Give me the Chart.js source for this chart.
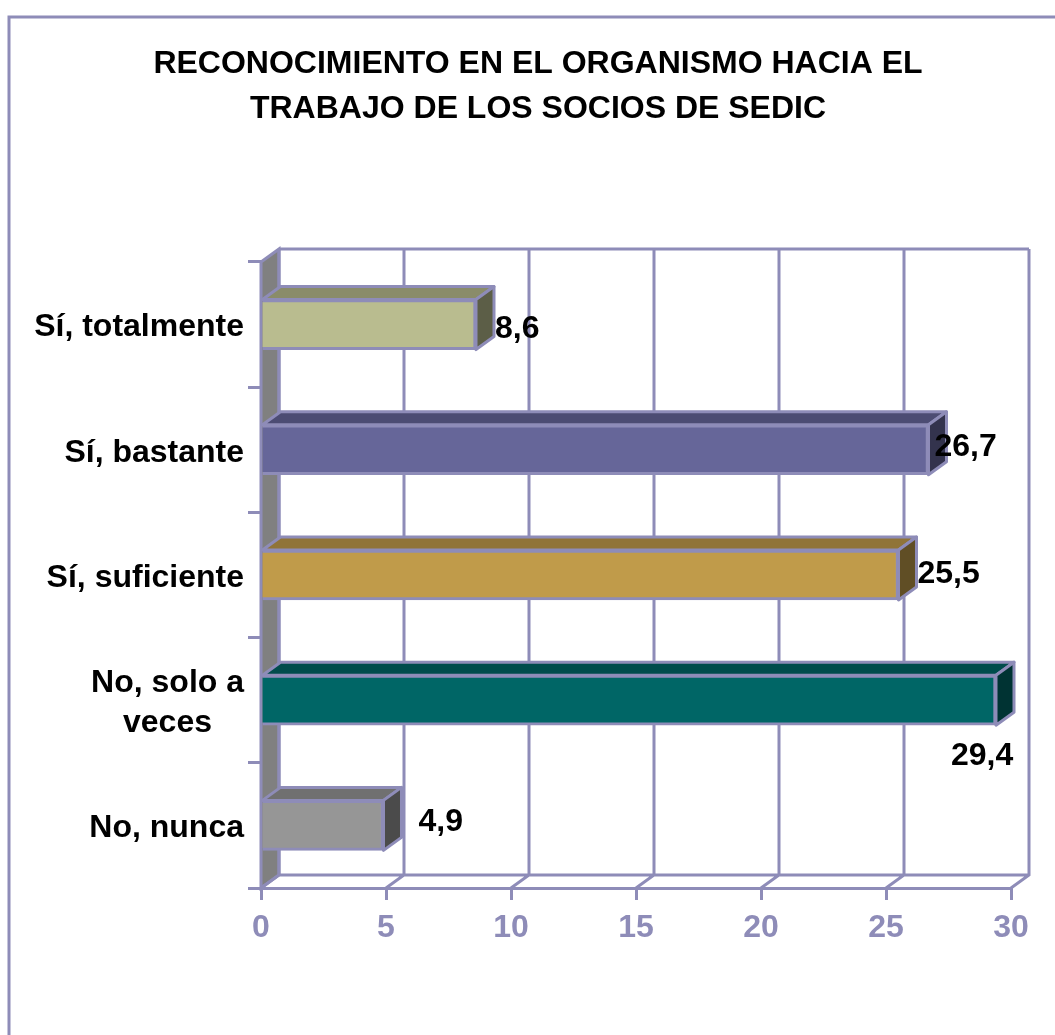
<html>

<head>
    <title>Reconocimiento</title>
    <script src="https://cdn.jsdelivr.net/npm/chart.js@4/dist/chart.umd.js"></script>
    <style>
        html, body { margin: 0; background: #fff; }
        canvas { display: block; }
    </style>
</head>

<body>
    <canvas id="recChart" width="1055" height="1035"></canvas>

    <script>
        const categories = ['Sí, totalmente', 'Sí, bastante', 'Sí, suficiente', ['No, solo a', 'veces'], 'No, nunca'];
        const values = [8.6, 26.7, 25.5, 29.4, 4.9];
        const frontColors = ['#B9BC8F', '#666699', '#C09B4A', '#006666', '#969696'];
        const topColors = ['#8A8C6A', '#4C4C73', '#907438', '#004C4C', '#707070'];
        const sideColors = ['#5C5E47', '#33334D', '#604E25', '#003333', '#4B4B4B'];
        // hand placed labels in the original, moved from the bar end
        const labelNudgeX = [19, 6, 19, -45, 35];
        const labelNudgeY = [5, -3, -1, 56, -3];

        const lineColor = '#8E8CB8';
        const lineWidth = 3;
        const depthX = 18;
        const depthY = -13;
        const fontName = '"Liberation Sans", Arial, sans-serif';

        function poly(ctx, pts, fill) {
            ctx.beginPath();
            ctx.moveTo(pts[0][0], pts[0][1]);
            for (let i = 1; i < pts.length; i++) ctx.lineTo(pts[i][0], pts[i][1]);
            ctx.closePath();
            if (fill) {
                ctx.fillStyle = fill;
                ctx.fill();
            }
            ctx.stroke();
        }

        const box3d = {
            id: 'box3d',
            afterLayout(chart) {
                // the long labels run past the title's left padding, chart.js would clip them
                chart.scales.y.left = 0;
            },
            beforeDraw(chart) {
                // outer frame, only top and left show
                const ctx = chart.ctx;
                ctx.save();
                ctx.strokeStyle = lineColor;
                ctx.lineWidth = 3;
                ctx.beginPath();
                ctx.moveTo(9, 1035);
                ctx.lineTo(9, 17);
                ctx.lineTo(1055, 17);
                ctx.stroke();
                ctx.restore();
            },
            beforeDatasetsDraw(chart) {
                const ctx = chart.ctx;
                const a = chart.chartArea;
                const xs = chart.scales.x;
                ctx.save();
                ctx.strokeStyle = lineColor;
                ctx.lineWidth = lineWidth;
                // left wall
                poly(ctx, [[a.left, a.top], [a.left + depthX, a.top + depthY], [a.left + depthX, a.bottom + depthY], [a.left, a.bottom]], '#808080');
                // back wall and floor
                ctx.beginPath();
                ctx.moveTo(a.left + depthX, a.top + depthY);
                ctx.lineTo(a.right + depthX, a.top + depthY);
                ctx.moveTo(a.left + depthX, a.bottom + depthY);
                ctx.lineTo(a.right + depthX, a.bottom + depthY);
                xs.ticks.forEach(t => {
                    const x = xs.getPixelForValue(t.value);
                    ctx.moveTo(x + depthX, a.top + depthY);
                    ctx.lineTo(x + depthX, a.bottom + depthY);
                    ctx.lineTo(x, a.bottom);
                });
                ctx.stroke();
                ctx.restore();
            },
            afterDatasetsDraw(chart) {
                const ctx = chart.ctx;
                const bars = chart.getDatasetMeta(0).data;
                ctx.save();
                ctx.strokeStyle = lineColor;
                ctx.lineWidth = lineWidth;
                ctx.lineJoin = 'round';
                bars.forEach((bar, i) => {
                    const top = bar.y - bar.height / 2;
                    const bottom = bar.y + bar.height / 2;
                    poly(ctx, [[bar.base, top], [bar.x, top], [bar.x + depthX, top + depthY], [bar.base + depthX, top + depthY]], topColors[i]);
                    poly(ctx, [[bar.x, top], [bar.x + depthX, top + depthY], [bar.x + depthX, bottom + depthY], [bar.x, bottom]], sideColors[i]);
                });
                ctx.fillStyle = '#000';
                ctx.font = 'bold 32px ' + fontName;
                ctx.textAlign = 'left';
                ctx.textBaseline = 'middle';
                bars.forEach((bar, i) => {
                    const txt = values[i].toFixed(1).replace('.', ',');
                    ctx.fillText(txt, bar.x + labelNudgeX[i], bar.y + labelNudgeY[i]);
                });
                ctx.restore();
            }
        };

        new Chart(document.getElementById('recChart').getContext('2d'), {
            type: 'bar',
            data: {
                labels: categories,
                datasets: [{
                    data: values,
                    backgroundColor: frontColors,
                    borderColor: lineColor,
                    borderWidth: lineWidth,
                    barThickness: 50
                }]
            },
            options: {
                indexAxis: 'y',
                responsive: false,
                animation: false,
                layout: { padding: { left: 65, right: 44, top: 0, bottom: 0 } },
                plugins: {
                    legend: { display: false },
                    tooltip: { enabled: false },
                    title: {
                        display: true,
                        text: ['RECONOCIMIENTO EN EL ORGANISMO HACIA EL', 'TRABAJO DE LOS SOCIOS DE SEDIC'],
                        color: '#000',
                        font: { family: fontName, size: 32, weight: 'bold', lineHeight: 1.406 },
                        padding: { top: 42, bottom: 130 }
                    }
                },
                scales: {
                    x: {
                        min: 0,
                        max: 30,
                        ticks: {
                            stepSize: 5,
                            color: lineColor,
                            maxRotation: 0,
                            padding: 9,
                            font: { family: fontName, size: 32, weight: 'bold' }
                        },
                        grid: { drawOnChartArea: false, color: lineColor, lineWidth: lineWidth, tickLength: 12 },
                        border: { color: lineColor, width: lineWidth },
                        afterFit(scale) { scale.height = 147; }
                    },
                    y: {
                        ticks: {
                            color: '#000',
                            padding: 4,
                            labelOffset: 3,
                            font: { family: fontName, size: 32, weight: 'bold', lineHeight: 1.25 },
                            // second line of the wrapped label sits centred under the first
                            callback(value) {
                                const label = categories[value];
                                return Array.isArray(label) ? [label[0], label[1] + '\u2005\u2005\u2005\u2005'] : label;
                            }
                        },
                        grid: { drawOnChartArea: false, color: lineColor, lineWidth: lineWidth, tickLength: 13 },
                        border: { color: lineColor, width: lineWidth },
                        afterFit(scale) { scale.width = 196; }
                    }
                }
            },
            plugins: [box3d]
        });
    </script>
</body>

</html>
